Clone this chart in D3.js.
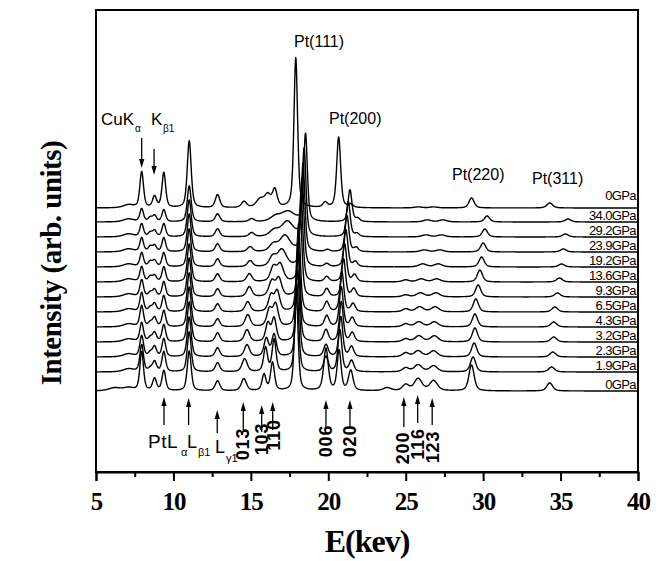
<!DOCTYPE html>
<html>
<head>
<meta charset="utf-8">
<script src="https://cdn.jsdelivr.net/npm/d3@7/dist/d3.min.js"></script>
<style>
body { margin: 0; background: #fff; }
text { fill: #000; }
</style>
</head>
<body>
<svg id="chart" width="662" height="561"></svg>
<script>
// spectra, top to bottom
const pressures = ["0GPa", "34.0GPa", "29.2GPa", "23.9GPa", "19.2GPa", "13.6GPa", "9.3GPa",
                   "6.5GPa", "4.3GPa", "3.2GPa", "2.3GPa", "1.9GPa", "0GPa"];
// vertical shift of each spectrum (arb. units)
const offsets = [264, 250, 235, 220, 205, 190, 175, 160, 145, 130, 115, 100, 81];

// peak families: position (keV), height (arb. units) per spectrum, fwhm (keV)
const bgPos = 7.1,   bgAmp = [3, 3, 3, 3, 3, 3, 3, 3, 3, 3, 3, 3, 3];
const lowPos = 6.2,  lowAmp = [0, 0, 0, 0, 0, 0, 0, 0, 0, 0, 0, 0, 3];
const cuKaPos = 7.95, cuKaAmp = [36, 13, 13, 14, 14, 15, 17, 19, 21, 19, 21, 27, 39];
const kbaPos = 8.5,  kbaAmp = [0, 4, 4, 5, 5, 5, 4, 4, 4, 4, 4, 3, 0];
const kbPos = 8.78,  kbAmp = [11, 6, 6, 6, 6, 6, 7, 8, 9, 9, 10, 10, 12];
const ptLaPos = 9.38, ptLaAmp = [35, 12, 13, 14, 14, 15, 15, 16, 16, 17, 18, 20, 20];
const ptLbPos = 11.02, ptLbAmp = [67, 36, 37, 38, 38, 38, 39, 39, 40, 40, 40, 40, 40];
const ptLgPos = 12.85, ptLgAmp = [13, 8, 8, 8, 8, 8, 8, 8, 8, 9, 9, 9, 10];
const p013Pos = [14.56, 15.05, 15.05, 14.95, 14.95, 14.9, 14.9, 14.8, 14.8, 14.75, 14.75, 14.6, 14.55];
const p013Amp = [6, 3, 4, 5, 6, 8, 10, 10, 12, 12, 12, 13, 12];
const p15Pos = 15.6, p15Amp = [8, 0, 0, 0, 0, 0, 0, 0, 0, 0, 0, 0, 0];
const p103Pos = [16.1, 16.6, 16.5, 16.45, 16.4, 16.45, 16.35, 16.3, 16.2, 16.1, 16.0, 15.95, 15.85];
const p103Amp = [12, 5, 6, 7, 9, 14, 15, 16, 17, 18, 18, 24, 16];
const p103W = [0.5, 0.8, 0.7, 0.6, 0.5, 0.45, 0.45, 0.4, 0.4, 0.35, 0.35, 0.3, 0.3];
const p110Pos = [16.55, 17.4, 17.35, 17.2, 17.0, 16.9, 16.8, 16.7, 16.6, 16.5, 16.5, 16.5, 16.4];
const p110Amp = [17, 10, 15, 16, 17, 17, 18, 20, 22, 23, 22, 32, 28];
const p110W = [0.35, 1.0, 0.9, 0.8, 0.7, 0.5, 0.45, 0.4, 0.4, 0.35, 0.35, 0.3, 0.3];
const pt111Pos = [17.9, 18.53, 18.44, 18.37, 18.31, 18.24, 18.18, 18.08, 18.05, 18.05, 18.02, 17.97, 17.93];
const pt111Amp = [150, 88, 88, 88, 88, 88, 88, 88, 88, 88, 88, 88, 100];
const p006Pos = [19.8, 19.95, 19.95, 19.95, 19.9, 19.9, 19.9, 19.9, 19.9, 19.85, 19.85, 19.85, 19.85];
const p006Amp = [5, 0, 0, 2, 3, 5, 8, 10, 11, 12, 12, 15, 42];
const pt200Pos = [20.67, 21.40, 21.29, 21.21, 21.14, 21.06, 20.99, 20.88, 20.84, 20.84, 20.81, 20.75, 20.70];
const pt200Amp = [71, 32, 35, 36, 37, 38, 38, 40, 40, 40, 40, 42, 40];
const p020Pos = [21.45, 21.9, 21.85, 21.8, 21.75, 21.7, 21.65, 21.6, 21.55, 21.55, 21.5, 21.5, 21.45];
const p020Amp = [3, 3, 3, 4, 5, 7, 8, 8, 9, 9, 10, 11, 20];
const p238Pos = 23.8, p238Amp = [0, 0, 0, 0, 0, 0, 0, 0, 0, 0, 0, 0, 3];
const p200Pos = 25.0, p200Amp = [0, 0, 0, 0, 0, 2, 2, 3, 3, 3, 4, 4, 6];
const p116Pos = [25.8, 26.4, 26.3, 26.2, 26.1, 26.0, 25.95, 25.9, 25.85, 25.85, 25.8, 25.8, 25.8];
const p116Amp = [1, 2, 2, 2, 3, 3, 4, 5, 5, 6, 6, 7, 12];
const p123Pos = [26.8, 27.4, 27.3, 27.2, 27.1, 27.0, 26.95, 26.9, 26.85, 26.85, 26.8, 26.8, 26.8];
const p123Amp = [1, 2, 2, 2, 3, 3, 4, 5, 5, 6, 6, 6, 10];
const pt220Pos = [29.25, 30.26, 30.11, 30.0, 29.9, 29.79, 29.68, 29.53, 29.47, 29.47, 29.42, 29.35, 29.25];
const pt220Amp = [10, 6, 8, 9, 10, 12, 12, 13, 13, 14, 14, 15, 26];
const pt311Pos = [34.3, 35.48, 35.31, 35.18, 35.06, 34.93, 34.8, 34.63, 34.56, 34.56, 34.5, 34.42, 34.3];
const pt311Amp = [5, 3, 3, 3, 3, 4, 4, 5, 5, 5, 5, 5, 8];

// annotation markers
const upMarks = [
  { e: 9.39, y0: 397, y1: 425 }, { e: 10.98, y0: 398, y1: 425 }, { e: 12.83, y0: 410, y1: 433 },
  { e: 14.51, y0: 402, y1: 430 }, { e: 15.70, y0: 405, y1: 432 }, { e: 16.41, y0: 402, y1: 430 },
  { e: 19.85, y0: 400, y1: 428 }, { e: 21.40, y0: 400, y1: 428 }, { e: 24.88, y0: 397, y1: 427 },
  { e: 25.77, y0: 395, y1: 423 }, { e: 26.71, y0: 398, y1: 425 }
];
const hklLabels = ["013", "103", "110", "006", "020", "200", "116", "123"];
const hklE = [14.51, 15.70, 16.51, 19.87, 21.40, 24.85, 25.82, 26.79];
const hklY = [444, 439, 435, 441, 441, 448, 444, 447];
const xTicks = [5, 10, 15, 20, 25, 30, 35, 40];
const xMinor = [7.5, 12.5, 17.5, 22.5, 27.5, 32.5, 37.5];

const families = [
  [bgPos, bgAmp, 0.8], [lowPos, lowAmp, 0.9], [cuKaPos, cuKaAmp, 0.28], [kbaPos, kbaAmp, 0.3],
  [kbPos, kbAmp, 0.3], [ptLaPos, ptLaAmp, 0.28], [ptLbPos, ptLbAmp, 0.3], [ptLgPos, ptLgAmp, 0.35],
  [p013Pos, p013Amp, 0.4], [p15Pos, p15Amp, 0.6], [p103Pos, p103Amp, p103W], [p110Pos, p110Amp, p110W],
  [pt111Pos, pt111Amp, 0.28], [p006Pos, p006Amp, 0.35], [pt200Pos, pt200Amp, 0.3], [p020Pos, p020Amp, 0.35],
  [p238Pos, p238Amp, 0.6], [p200Pos, p200Amp, 0.5], [p116Pos, p116Amp, 0.6], [p123Pos, p123Amp, 0.6],
  [pt220Pos, pt220Amp, 0.4], [pt311Pos, pt311Amp, 0.45]
];

function pick(v, i) { return Array.isArray(v) ? v[i] : v; }

// pseudo-Voigt peak
function peak(e, c, a, w) {
  const t = (e - c) / (w / 2);
  return a * (0.5 / (1 + t * t) + 0.5 * Math.exp(-Math.LN2 * t * t));
}

const energies = d3.range(5, 40.0001, 0.02);
const spectra = pressures.map((p, i) => energies.map(e => {
  let v = offsets[i];
  families.forEach(f => { v += peak(e, pick(f[0], i), pick(f[1], i), pick(f[2], i)); });
  return [e, v];
}));

const svg = d3.select("#chart");
const x = d3.scaleLinear().domain([5, 40]).range([96, 638]);
const y = d3.scaleLinear().domain([0, 462]).range([472, 10]);

const line = d3.line().x(d => x(d[0])).y(d => y(d[1]));

svg.append("g")
  .selectAll("path")
  .data(spectra)
  .enter()
  .append("path")
  .attr("d", line)
  .attr("fill", "none")
  .attr("stroke", "#000")
  .attr("stroke-width", 1.4)
  .attr("stroke-linejoin", "round");

// frame
svg.append("rect")
  .attr("x", 96).attr("y", 10)
  .attr("width", 542).attr("height", 462)
  .attr("fill", "none").attr("stroke", "#000").attr("stroke-width", 2);

// x axis
const xAxis = svg.append("g")
  .attr("transform", "translate(0,472)")
  .call(d3.axisBottom(x).tickValues(xTicks).tickSize(9).tickPadding(11).tickFormat(d3.format("d")));
xAxis.select(".domain").attr("stroke-width", 2);
xAxis.selectAll(".tick line").attr("stroke-width", 2);
xAxis.selectAll("text")
  .attr("font-family", "'Liberation Serif', 'Times New Roman', serif")
  .attr("font-weight", "bold")
  .attr("font-size", 25)
  .attr("letter-spacing", -1);

const minorAxis = svg.append("g")
  .attr("transform", "translate(0,472)")
  .call(d3.axisBottom(x).tickValues(xMinor).tickSize(5).tickFormat(""));
minorAxis.select(".domain").remove();
minorAxis.selectAll(".tick line").attr("stroke-width", 2);

// axis titles
svg.append("text")
  .attr("x", 367).attr("y", 552)
  .attr("text-anchor", "middle")
  .attr("font-family", "'Liberation Serif', 'Times New Roman', serif")
  .attr("font-weight", "bold").attr("font-size", 32)
  .attr("letter-spacing", -1)
  .text("E(kev)");

svg.append("text")
  .attr("transform", "translate(61,263) rotate(-90)")
  .attr("text-anchor", "middle")
  .attr("font-family", "'Liberation Serif', 'Times New Roman', serif")
  .attr("font-weight", "bold").attr("font-size", 29)
  .attr("letter-spacing", -0.5)
  .text("Intensity (arb. units)");

// pressure labels
const sans = "'Liberation Sans', Arial, sans-serif";
svg.append("g")
  .selectAll("text")
  .data(pressures)
  .enter()
  .append("text")
  .attr("x", 636)
  .attr("y", (d, i) => y(offsets[i]) - (i === 0 ? 8 : 2))
  .attr("text-anchor", "end")
  .attr("font-family", sans)
  .attr("font-size", 13)
  .attr("letter-spacing", -0.6)
  .text(d => d);

// peak labels
function label(txt, px, py, size) {
  return svg.append("text").attr("x", px).attr("y", py)
    .attr("font-family", sans).attr("font-size", size).text(txt);
}
label("Pt(111)", 294, 47, 16);
label("Pt(200)", 329, 124, 16);
label("Pt(220)", 452, 180, 16);
label("Pt(311)", 532, 184, 16);
label("CuK", 101, 125, 17);
label("\u03b1", 135, 132, 10);
label("K", 151, 125, 17);
label("\u03b21", 163, 132, 10);
label("PtL", 148, 448, 19).attr("letter-spacing", 0.5);
label("\u03b1", 181, 456, 11);
label("L", 187, 448, 18);
label("\u03b21", 198, 456, 11);
label("L", 215, 453, 18);
label("\u03b31", 226, 462, 11);

// arrows
function arrow(px, yTail, yHead) {
  const dir = yHead < yTail ? 1 : -1;
  svg.append("line").attr("x1", px).attr("x2", px)
    .attr("y1", yTail).attr("y2", yHead + dir * 6)
    .attr("stroke", "#000").attr("stroke-width", 1.3);
  svg.append("path")
    .attr("d", `M${px},${yHead} L${px - 2.6},${yHead + dir * 9} L${px + 2.6},${yHead + dir * 9} Z`)
    .attr("fill", "#000");
}
arrow(x(7.95), 138, 168);
arrow(x(8.75), 149, 175);
upMarks.forEach(m => arrow(x(m.e), m.y1, m.y0));

// rotated hkl labels
svg.append("g")
  .selectAll("text")
  .data(hklLabels)
  .enter()
  .append("text")
  .attr("transform", (d, i) => `translate(${x(hklE[i])},${hklY[i]}) rotate(-90)`)
  .attr("text-anchor", "middle")
  .attr("dominant-baseline", "central")
  .attr("font-family", sans)
  .attr("font-weight", "bold")
  .attr("font-size", 18)
  .attr("letter-spacing", 0.8)
  .text(d => d);
</script>
</body>
</html>
